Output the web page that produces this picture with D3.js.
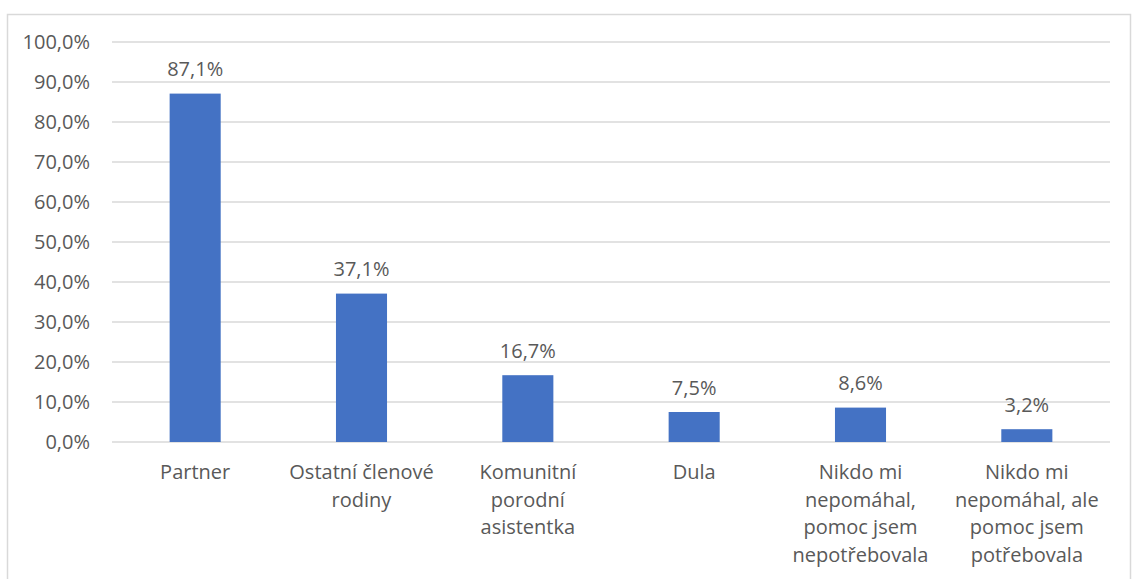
<!DOCTYPE html>
<html>
<head>
<meta charset="utf-8">
<script src="https://cdn.jsdelivr.net/npm/d3@7"></script>
<style>
  html, body { margin: 0; padding: 0; background: #fff; }
  svg { display: block; }
  text { font-family: "Open Sans", "Liberation Sans", sans-serif; fill: #595959; }
</style>
</head>
<body>
<svg id="chart" width="1132" height="579"></svg>
<script>
const categories = [
  ["Partner"],
  ["Ostatní členové", "rodiny"],
  ["Komunitní", "porodní", "asistentka"],
  ["Dula"],
  ["Nikdo mi", "nepomáhal,", "pomoc jsem", "nepotřebovala"],
  ["Nikdo mi", "nepomáhal, ale", "pomoc jsem", "potřebovala"]
];
const values = [87.1, 37.1, 16.7, 7.5, 8.6, 3.2];
const yTicks = [0, 10, 20, 30, 40, 50, 60, 70, 80, 90, 100];

const fmt = v => v.toFixed(1).replace(".", ",") + "%";

const svg = d3.select("#chart");
const W = 1132, H = 579;
const m = { left: 112, right: 22, top: 42, bottom: 137 };
const FS = 20;

// outer frame
svg.append("rect")
  .attr("x", 7.5).attr("y", 14.5)
  .attr("width", 1123).attr("height", 600)
  .attr("fill", "none").attr("stroke", "#d9d9d9").attr("stroke-width", 1.5);

const x = d3.scaleBand()
  .domain(d3.range(categories.length))
  .range([m.left, W - m.right])
  .paddingInner(0.693)
  .paddingOuter(0.3465);

const y = d3.scaleLinear().domain([0, 100]).range([H - m.bottom, m.top]);

// gridlines
svg.append("g").selectAll("line").data(yTicks).join("line")
  .attr("x1", m.left).attr("x2", W - m.right)
  .attr("y1", d => y(d)).attr("y2", d => y(d))
  .attr("stroke", "#d9d9d9").attr("stroke-width", 1.5);

// y axis labels
const yAxis = d3.axisLeft(y).tickValues(yTicks).tickFormat(d => fmt(d)).tickSize(0).tickPadding(22);
const gy = svg.append("g").attr("transform", `translate(${m.left},0)`).call(yAxis);
gy.select(".domain").remove();
gy.selectAll("text").attr("font-size", FS).style("font-family", '"Open Sans", sans-serif').attr("fill", "#595959");

// bars
svg.append("g").selectAll("rect").data(values).join("rect")
  .attr("x", (d, i) => x(i))
  .attr("width", x.bandwidth())
  .attr("y", d => y(d))
  .attr("height", d => y(0) - y(d))
  .attr("fill", "#4472C4");

// value labels
svg.append("g").selectAll("text").data(values).join("text")
  .attr("x", (d, i) => x(i) + x.bandwidth() / 2)
  .attr("y", d => y(d) - 17.5)
  .attr("text-anchor", "middle")
  .attr("font-size", FS)
  .text(d => fmt(d));

// category labels
const cat = svg.append("g").selectAll("text").data(categories).join("text")
  .attr("text-anchor", "middle")
  .attr("font-size", FS)
  .attr("x", (d, i) => x(i) + x.bandwidth() / 2)
  .attr("y", y(0) + 37);
cat.selectAll("tspan").data(d => d).join("tspan")
  .attr("x", function() { return d3.select(this.parentNode).attr("x"); })
  .attr("dy", (d, i) => i === 0 ? 0 : 27.7)
  .text(d => d);
</script>
</body>
</html>
